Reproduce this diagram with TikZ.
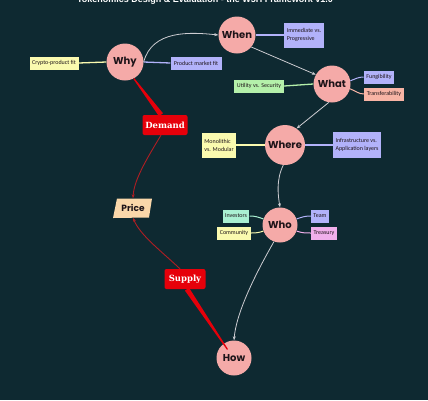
\documentclass[tikz,border=0pt]{standalone}
\usepackage{fontspec}
\setmainfont{Liberation Sans}
\newfontfamily\circfont{Poppins}
\newfontfamily\labfont{Carlito}
\newfontfamily\slabfont{DejaVu Serif}
\usetikzlibrary{calc,arrows.meta}
\definecolor{bg}{RGB}{14,41,49}
\definecolor{pinkc}{RGB}{245,170,168}
\definecolor{lav}{RGB}{178,178,250}
\definecolor{yel}{RGB}{250,250,175}
\definecolor{grn}{RGB}{180,240,170}
\definecolor{salm}{RGB}{248,180,165}
\definecolor{mint}{RGB}{170,240,210}
\definecolor{lilac}{RGB}{240,175,235}
\definecolor{peach}{RGB}{250,215,170}
\definecolor{redb}{RGB}{230,0,10}
\definecolor{dred}{RGB}{175,30,35}
\definecolor{arr}{RGB}{205,205,210}
\definecolor{txt}{RGB}{30,20,25}
\tikzset{
  q/.style={circle,fill=pinkc,minimum size=37pt,inner sep=0pt,font=\circfont\bfseries\fontsize{10}{11}\selectfont,text=txt},
  lab/.style={fill=#1,inner xsep=2.5pt,inner ysep=2pt,minimum height=13pt,font=\labfont\fontsize{6}{8}\selectfont,text=txt,align=left},
  redbox/.style={fill=redb,rounded corners=2pt,minimum width=45pt,minimum height=20pt,inner sep=1pt,font=\slabfont\bfseries\fontsize{8.5}{9}\selectfont,text=white},
  flow/.style={draw=arr,line width=0.8pt,-{Stealth[length=4pt,width=3pt]}},
  dflow/.style={draw=dred,line width=0.9pt,-{Stealth[length=4pt,width=3pt]}},
  lk/.style={draw=#1,line width=1.3pt}
}
\begin{document}
\begin{tikzpicture}[x=1pt,y=-1pt]
\fill[bg] (0,0) rectangle (428,400);
\useasboundingbox (0,0) rectangle (428,400);
\node[anchor=base,text=white,font=\bfseries\fontsize{9}{10}\selectfont] (title) at (205,2.5) {Tokenomics Design \& Evaluation - the W5H Framework v1.0};

% question circles
\node[q] (Why) at (125,62) {Why};
\node[q] (When) at (237,35) {When};
\node[q] (What) at (332,84) {What};
\node[q,minimum size=40pt] (Where) at (285,145) {Where};
\node[q,minimum size=35pt] (Who) at (280,225) {Who};
\node[q,minimum size=35pt] (How) at (234,358) {How};

% labels
\node[lab=yel,minimum width=49pt] (crypto) at (54,63) {Crypto-product fit};
\node[lab=lav,minimum width=51pt] (pmf) at (196,63) {Product market fit};
\node[lab=lav,minimum width=40pt,minimum height=25pt] (imm) at (304,35) {Immediate vs.\\Progressive};
\node[lab=grn,minimum width=50pt] (util) at (259,86) {Utility vs. Security};
\node[lab=lav] (fung) at (379,77) {Fungibility};
\node[lab=salm] (trans) at (384,94) {Transferability};
\node[lab=yel,minimum width=33pt,minimum height=25pt] (mono) at (219,145) {Monolithic\\vs. Modular};
\node[lab=lav,minimum width=48pt,minimum height=26pt] (infra) at (357,145) {Infrastructure vs.\\Application layers};
\node[lab=mint] (inv) at (236,216) {Investors};
\node[lab=yel] (comm) at (234,233) {Community};
\node[lab=lav] (team) at (320,216) {Team};
\node[lab=lilac] (treas) at (324,233) {Treasury};

% red boxes and price
\node[redbox] (Demand) at (165,125) {Demand};
\node[redbox,minimum width=41pt] (Supply) at (185,279) {Supply};
\coordinate (pc) at (133,208);
\fill[peach] ($(pc)+(-16,-9.5)$) -- ($(pc)+(19,-9.5)$) -- ($(pc)+(16,9.5)$) -- ($(pc)+(-20,10)$) -- cycle;
\node[font=\circfont\bfseries\fontsize{9}{9}\selectfont,text=txt,minimum width=36pt,minimum height=19pt,inner sep=0pt] (Price) at (pc) {Price};

% label links
\draw[lk=yel] (crypto.east) -- (Why.west);
\draw[lk=lav] (Why.east) -- (pmf.west);
\draw[lk=lav] (When.east) -- (imm.west);
\draw[lk=grn] (util.east) -- (What.west);
\draw[lk=lav,line width=1pt] (What.10) to[out=20,in=180] (fung.west);
\draw[lk=salm,line width=1pt] (What.-15) to[out=-20,in=180] (trans.west);
\draw[lk=yel] (mono.east) -- (Where.west);
\draw[lk=lav] (Where.east) -- (infra.west);
\draw[lk=mint,line width=1pt] (inv.east) to[out=0,in=160] (Who.160);
\draw[lk=yel,line width=1pt] (comm.east) to[out=0,in=200] (Who.200);
\draw[lk=lav,line width=1pt] (Who.20) to[out=20,in=180] (team.west);
\draw[lk=lilac,line width=1pt] (Who.-20) to[out=-20,in=180] (treas.west);

% flow arrows
\draw[flow] (Why.east) .. controls (152,30) and (190,32) .. (When.west);
\draw[flow] (When.-40) -- (What.150);
\draw[flow] (What.-100) -- (Where.55);
\draw[flow] (Where.-95) .. controls (276,180) and (278,195) .. (Who.north);
\draw[flow] (Who.-110) .. controls (252,280) and (236,315) .. (How.north);

% red tapered links
\coordinate (a1) at (Why.-62);
\coordinate (a2) at ($(Demand.north)+(-4,0)$);
\fill[redb] ($(a1)!0.6pt!90:(a2)$) -- ($(a1)!0.6pt!-90:(a2)$) -- ($(a2)!2.5pt!90:(a1)$) -- ($(a2)!2.5pt!-90:(a1)$) -- cycle;
\coordinate (b1) at ($(How.north west)+(6,4)$);
\coordinate (b2) at ($(Supply.south)+(2,0)$);
\fill[redb] ($(b1)!0.6pt!90:(b2)$) -- ($(b1)!0.6pt!-90:(b2)$) -- ($(b2)!2.5pt!90:(b1)$) -- ($(b2)!2.5pt!-90:(b1)$) -- cycle;
\draw[dflow] ($(Demand.south)+(-4,0)$) .. controls (146,160) and (134,180) .. (Price.north);
\draw[dflow] ($(Supply.north)+(-5,0)$) .. controls (160,250) and (140,235) .. (Price.south);
\end{tikzpicture}
\end{document}
